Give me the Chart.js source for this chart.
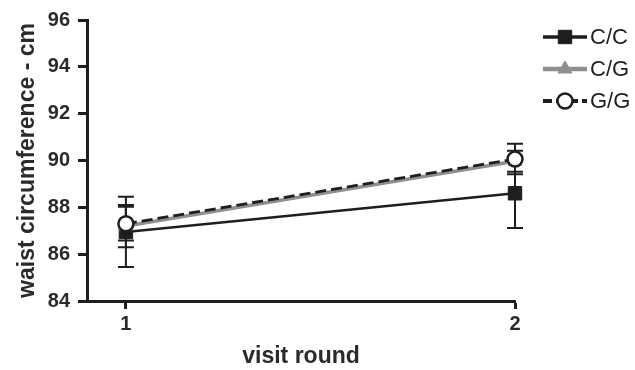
<!DOCTYPE html>
<html>
<head>
<meta charset="utf-8">
<script src="https://cdn.jsdelivr.net/npm/chart.js@4"></script>
<style>
  html, body { margin: 0; padding: 0; background: #fff; }
  #wrap { width: 635px; height: 370px; }
</style>
</head>
<body>
<div id="wrap"><canvas id="c" width="635" height="370"></canvas></div>
<script>
// Visit rounds and waist circumference (cm) by genotype: mean and error half-width
const rounds = [1, 2];
const genotypes = ['C/C', 'C/G', 'G/G'];
const ccMean = [86.95, 88.6];
const ccErr  = [1.5, 1.48];
const cgMean = [87.2, 89.97];
const cgErr  = [0.9, 0.45];
const ggMean = [87.3, 90.06];
const ggErr  = [0.72, 0.65];
const yTicks = [84, 86, 88, 90, 92, 94, 96];
const xTicks = [1, 2];

const INK = '#1e1e1e';
const FONT = 'Arial, "Liberation Sans", Helvetica, sans-serif';

function pts(means) { return rounds.map((r, i) => ({ x: r, y: means[i] })); }

const datasets = [
  { label: genotypes[0], data: pts(ccMean), err: ccErr, borderColor: INK, backgroundColor: INK,
    borderWidth: 2.5, pointStyle: 'rect', pointRadius: 9.5, pointBorderWidth: 1,
    pointBackgroundColor: INK, pointBorderColor: INK, order: 3, clip: false },
  { label: genotypes[1], data: pts(cgMean), err: cgErr, borderColor: '#8f8f8f', backgroundColor: '#8f8f8f',
    borderWidth: 3.5, pointStyle: 'triangle', pointRadius: 8, pointBorderWidth: 1,
    pointBackgroundColor: '#8f8f8f', pointBorderColor: '#8f8f8f', order: 2, clip: false },
  { label: genotypes[2], data: pts(ggMean), err: ggErr, borderColor: INK, backgroundColor: '#fff',
    borderWidth: 2.8, borderDash: [11, 5], pointStyle: 'circle', pointRadius: 7.5, pointBorderWidth: 2.5,
    pointBackgroundColor: '#fff', pointBorderColor: INK, order: 1, clip: false }
];

// Vertical error bars with caps, drawn under the markers
const errorBars = {
  id: 'errorBars',
  beforeDatasetsDraw(chart) {
    const { ctx, scales: { x, y } } = chart;
    ctx.save();
    ctx.strokeStyle = INK;
    ctx.lineWidth = 2;
    chart.data.datasets.forEach(ds => {
      ds.data.forEach((p, i) => {
        const px = x.getPixelForValue(p.x);
        const top = y.getPixelForValue(p.y + ds.err[i]);
        const bot = y.getPixelForValue(p.y - ds.err[i]);
        ctx.beginPath();
        ctx.moveTo(px, top); ctx.lineTo(px, bot);
        ctx.moveTo(px - 8, top); ctx.lineTo(px + 8, top);
        ctx.moveTo(px - 8, bot); ctx.lineTo(px + 8, bot);
        ctx.stroke();
      });
    });
    ctx.restore();
  }
};

// Legend: line sample with the marker in the middle, label to the right
const lineLegend = {
  id: 'lineLegend',
  afterDraw(chart) {
    const { ctx } = chart;
    const x0 = 543, x1 = 587, rows = [37, 69, 101];
    ctx.save();
    chart.data.datasets.forEach((ds, i) => {
      const yy = rows[i];
      ctx.beginPath();
      ctx.strokeStyle = ds.borderColor;
      ctx.lineWidth = ds.borderWidth + 1;
      ctx.setLineDash(ds.borderDash ? [9, 4] : []);
      ctx.moveTo(x0, yy); ctx.lineTo(x1, yy);
      ctx.stroke();
      ctx.setLineDash([]);
      ctx.fillStyle = ds.pointBackgroundColor;
      ctx.strokeStyle = ds.pointBorderColor;
      ctx.lineWidth = ds.pointBorderWidth;
      Chart.helpers.drawPoint(ctx, { pointStyle: ds.pointStyle, radius: ds.pointRadius, borderWidth: ds.pointBorderWidth }, (x0 + x1) / 2, yy);
      ctx.fillStyle = INK;
      ctx.font = '22px ' + FONT;
      ctx.textBaseline = 'middle';
      ctx.textAlign = 'left';
      ctx.fillText(ds.label, x1 + 3, yy + 1);
    });
    ctx.restore();
  }
};

new Chart(document.getElementById('c'), {
  type: 'line',
  data: { datasets },
  options: {
    responsive: false,
    animation: false,
    events: [],
    layout: { padding: { top: 18, right: 120, bottom: 0, left: 0 } },
    plugins: { legend: { display: false }, tooltip: { enabled: false } },
    scales: {
      x: {
        type: 'linear', min: 0.9, max: 2,
        afterBuildTicks(s) { s.ticks = xTicks.map(v => ({ value: v })); },
        afterFit(s) { s.height = 69; },
        border: { display: true, color: INK, width: 3 },
        grid: { drawOnChartArea: false, drawTicks: true, tickLength: 8, tickColor: INK, tickWidth: 3 },
        ticks: { color: '#2a2a2a', padding: 3, font: { family: FONT, size: 20, weight: 'bold' }, maxRotation: 0 },
        title: { display: true, text: 'visit round', color: '#2a2a2a', padding: { top: 0, bottom: 0 },
                 font: { family: FONT, size: 23, weight: 'bold' } }
      },
      y: {
        type: 'linear', min: 84, max: 96,
        afterBuildTicks(s) { s.ticks = yTicks.map(v => ({ value: v })); },
        afterFit(s) { s.width = 87; },
        border: { display: true, color: INK, width: 3 },
        grid: { drawOnChartArea: false, drawTicks: true, tickLength: 9, tickColor: INK, tickWidth: 3 },
        ticks: { color: '#2a2a2a', padding: 8, font: { family: FONT, size: 20, weight: 'bold' } },
        title: { display: true, text: 'waist circumference - cm', color: '#2a2a2a', padding: { top: 14, bottom: 0 },
                 font: { family: FONT, size: 23, weight: 'bold' } }
      }
    }
  },
  plugins: [errorBars, lineLegend]
});
</script>
</body>
</html>
